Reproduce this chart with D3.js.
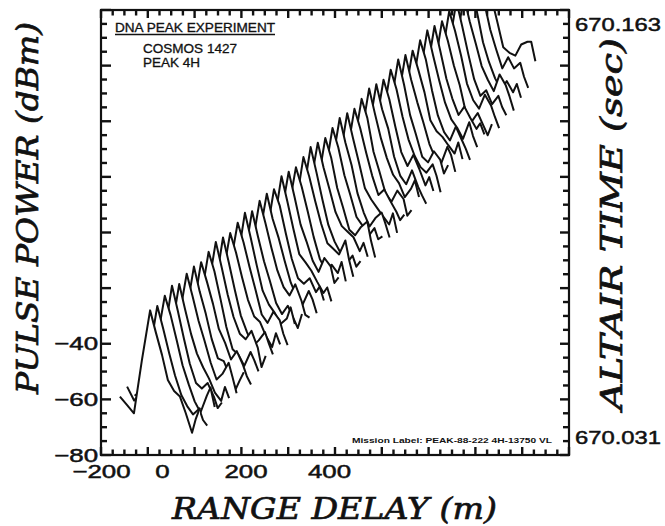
<!DOCTYPE html>
<html>
<head>
<meta charset="utf-8">
<script src="https://cdn.jsdelivr.net/npm/d3@7"></script>
<style>
  body { margin: 0; background: #fff; }
  svg { display: block; }
</style>
</head>
<body>
<svg id="chart"></svg>
<script>
// range delay (m) of the samples in every sweep
const rangeDelay = [-138, -115, -92, -66, -39, -20, 0, 14, 29, 43, 57, 72, 81, 91];

// ALTAIR time (sec) of each sweep, front (bottom) to back (top)
const sweepTimes = [
  670.0310, 670.0333, 670.0357, 670.0380, 670.0403, 670.0427, 670.0450, 670.0473,
  670.0497, 670.0520, 670.0543, 670.0566, 670.0590, 670.0613, 670.0636, 670.0660,
  670.0683, 670.0706, 670.0730, 670.0753, 670.0776, 670.0800, 670.0823, 670.0846,
  670.0870, 670.0893, 670.0916, 670.0940, 670.0963, 670.0986, 670.1010, 670.1033,
  670.1056, 670.1079, 670.1103, 670.1126, 670.1149, 670.1173, 670.1196, 670.1219,
  670.1243, 670.1266, 670.1289, 670.1313, 670.1336, 670.1359, 670.1382
];

// pulse power (dBm), one row per sweep, one value per rangeDelay sample
const pulsePower = [
  [-59, -62, -65, -46, -28, -36, -44, -53, -57, -59, -65, -72, -67, -63],
  [-58, -63, -60, -47, -29, -37, -46, -54, -61, -65, -68, -66, -70, -72],
  [-64, -62, -63, -45, -28, -35, -44, -53, -60, -66, -70, -64, -61, -68],
  [-60, -61, -64, -46, -27, -36, -46, -55, -62, -64, -62, -67, -71, -69],
  [-59, -63, -62, -47, -29, -38, -47, -54, -59, -63, -68, -71, -66, -70],
  [-61, -60, -64, -45, -28, -36, -45, -52, -60, -66, -64, -60, -65, -71],
  [-60, -62, -63, -46, -28, -37, -45, -54, -61, -62, -67, -72, -69, -66],
  [-59, -61, -64, -47, -29, -36, -44, -53, -58, -64, -61, -66, -70, -73],
  [-58, -62, -63, -46, -28, -35, -45, -55, -63, -65, -69, -64, -67, -71],
  [-60, -63, -62, -45, -27, -36, -46, -54, -60, -62, -59, -65, -72, -68],
  [-61, -61, -64, -47, -28, -37, -47, -56, -62, -67, -65, -62, -66, -70],
  [-59, -62, -63, -46, -29, -36, -45, -53, -59, -61, -66, -70, -65, -69],
  [-60, -60, -65, -45, -28, -35, -44, -52, -61, -64, -60, -63, -68, -72],
  [-58, -63, -62, -46, -27, -36, -46, -55, -60, -63, -67, -65, -61, -67],
  [-61, -62, -63, -47, -29, -38, -47, -54, -62, -66, -63, -68, -71, -66],
  [-59, -61, -64, -46, -28, -36, -45, -53, -59, -62, -58, -64, -69, -70],
  [-60, -62, -63, -45, -28, -37, -44, -52, -60, -65, -68, -63, -66, -71],
  [-58, -63, -62, -47, -29, -35, -45, -54, -61, -63, -61, -66, -64, -69],
  [-61, -60, -64, -46, -27, -36, -46, -55, -58, -61, -65, -69, -67, -72],
  [-59, -62, -63, -45, -28, -37, -47, -53, -60, -64, -59, -62, -68, -66],
  [-60, -61, -65, -46, -29, -36, -45, -54, -62, -66, -64, -67, -63, -70],
  [-58, -63, -62, -47, -28, -35, -44, -52, -59, -61, -63, -58, -65, -71],
  [-61, -62, -63, -46, -27, -36, -46, -55, -61, -65, -69, -66, -70, -68],
  [-59, -60, -64, -45, -28, -37, -45, -53, -58, -60, -62, -67, -64, -69],
  [-60, -62, -63, -47, -29, -36, -47, -54, -62, -64, -61, -59, -66, -72],
  [-58, -61, -62, -46, -28, -35, -45, -52, -60, -63, -67, -64, -68, -67],
  [-61, -63, -64, -45, -27, -36, -44, -54, -61, -66, -63, -61, -65, -70],
  [-59, -62, -63, -46, -28, -37, -46, -55, -59, -62, -65, -68, -64, -71],
  [-60, -60, -65, -47, -29, -36, -45, -53, -60, -58, -62, -66, -69, -67],
  [-58, -63, -62, -46, -28, -35, -47, -54, -62, -65, -61, -64, -70, -68],
  [-61, -62, -63, -45, -27, -36, -45, -52, -58, -61, -66, -63, -60, -66],
  [-59, -61, -64, -46, -28, -37, -44, -54, -61, -64, -59, -65, -68, -71],
  [-60, -62, -63, -47, -29, -36, -46, -55, -60, -56, -61, -67, -64, -69],
  [-58, -63, -62, -46, -28, -35, -45, -53, -59, -63, -65, -62, -66, -72],
  [-61, -60, -64, -45, -27, -36, -47, -54, -62, -64, -60, -63, -68, -65],
  [-59, -62, -63, -46, -28, -37, -45, -52, -60, -65, -67, -61, -64, -70],
  [-60, -61, -65, -47, -29, -36, -44, -54, -58, -60, -63, -66, -62, -68],
  [-58, -63, -62, -46, -28, -35, -46, -55, -61, -64, -59, -64, -67, -71],
  [-61, -62, -63, -45, -27, -36, -45, -53, -59, -62, -66, -60, -65, -69],
  [-59, -60, -64, -46, -28, -37, -47, -54, -60, -57, -61, -65, -63, -67],
  [-60, -62, -63, -47, -29, -36, -45, -52, -62, -65, -62, -67, -70, -66],
  [-58, -61, -62, -46, -28, -35, -44, -54, -60, -63, -58, -62, -66, -70],
  [-61, -63, -64, -45, -27, -36, -46, -55, -61, -59, -64, -61, -65, -68],
  [-59, -62, -63, -46, -28, -37, -45, -53, -58, -62, -56, -60, -64, -69],
  [-60, -60, -65, -47, -29, -36, -47, -54, -60, -64, -61, -65, -62, -67],
  [-58, -63, -62, -46, -28, -35, -45, -52, -59, -55, -59, -57, -62, -66],
  [-61, -62, -63, -45, -27, -36, -45, -54, -56, -57, -53, -52, -52, -59]
];

const powerTickLabels = [-40, -60, -80];
const rangeTickLabels = [-200, 0, 200, 400];
const timeTickLabels = [670.031, 670.163];

const W = 665, H = 526;
const plot = { left: 101, right: 569, top: 10, bottom: 455 };
const skew = 1; // sideways shift of a sweep per pixel of lift

const svg = d3.select("#chart").attr("width", W).attr("height", H);

const x = d3.scaleLinear().domain([-200, 0, 975]).range([plot.left, 162, plot.right]);
const y = d3.scaleLinear().domain([-80, 80]).range([plot.bottom, plot.top]);
const yTime = d3.scaleLinear().domain([670.031, 670.163]).range([437, 24]);
const frameX = d3.scaleLinear().domain([0, 40]).range([plot.left, plot.right]);

const sansFont = "'Liberation Sans', Arial, sans-serif";
const serifFont = "'DejaVu Serif', serif";
const ink = "#111";

// stretch text horizontally like the plotter lettering
function stretch(sel, factor) {
  sel.each(function () {
    const w = this.getComputedTextLength();
    d3.select(this).attr("textLength", w * factor).attr("lengthAdjust", "spacingAndGlyphs");
  });
}

svg.append("defs").append("clipPath").attr("id", "plotArea")
  .append("rect")
  .attr("x", plot.left).attr("y", plot.top)
  .attr("width", plot.right - plot.left).attr("height", plot.bottom - plot.top);

// waterfall: draw back sweeps first, each front sweep hides what lies under it
const traces = svg.append("g").attr("clip-path", "url(#plotArea)");
const base = yTime(sweepTimes[0]);
const area = d3.area().y0(plot.bottom);
const line = d3.line();
d3.range(sweepTimes.length - 1, -1, -1).forEach((i) => {
  const lift = base - yTime(sweepTimes[i]);
  const pts = rangeDelay.map((r, j) => [x(r) + skew * lift, y(pulsePower[i][j]) - lift]);
  traces.append("path").attr("d", area(pts)).attr("fill", "#fff");
  traces.append("path")
    .attr("d", line(pts))
    .attr("fill", "none")
    .attr("stroke", ink)
    .attr("stroke-width", 2)
    .attr("stroke-linejoin", "round");
});

// frame ticks, all pointing into the plot
const fives = d3.range(-80, 81, 5);
const divs = d3.range(0, 41);
const ticks = svg.append("g").attr("stroke", ink).attr("stroke-width", 2.4);

ticks.append("g").selectAll("line").data(fives).join("line")
  .attr("x1", plot.left).attr("x2", (d) => plot.left + (d % 20 === 0 ? 10 : 6))
  .attr("y1", (d) => y(d)).attr("y2", (d) => y(d));
ticks.append("g").selectAll("line").data(fives).join("line")
  .attr("x1", plot.right).attr("x2", (d) => plot.right - (d % 20 === 0 ? 9 : 6))
  .attr("y1", (d) => y(d)).attr("y2", (d) => y(d));
ticks.append("g").selectAll("line").data(divs).join("line")
  .attr("x1", (d) => frameX(d)).attr("x2", (d) => frameX(d))
  .attr("y1", plot.top).attr("y2", (d) => plot.top + (d % 4 === 0 ? 8 : 5.5));
ticks.append("g").selectAll("line").data(divs).join("line")
  .attr("x1", (d) => frameX(d)).attr("x2", (d) => frameX(d))
  .attr("y1", plot.bottom).attr("y2", (d) => plot.bottom - (d % 4 === 0 ? 8 : 5.5));

// frame
svg.append("rect")
  .attr("x", plot.left).attr("y", plot.top)
  .attr("width", plot.right - plot.left).attr("height", plot.bottom - plot.top)
  .attr("fill", "none").attr("stroke", ink).attr("stroke-width", 2.2);

// tick labels
function labelAxis(axis, transform, size, factor) {
  svg.append("g").attr("transform", transform).call(axis)
    .call((a) => a.select(".domain").remove())
    .call((a) => a.selectAll("line").remove())
    .call((a) => a.selectAll("text")
      .attr("font-family", sansFont).attr("font-size", size).attr("fill", ink)
      .attr("stroke", ink).attr("stroke-width", 0.5)
      .call(stretch, factor));
}
labelAxis(d3.axisLeft(y).tickValues(powerTickLabels).tickSize(0).tickPadding(3),
  `translate(${plot.left},0)`, 19, 1.36);
labelAxis(d3.axisBottom(x).tickValues(rangeTickLabels).tickSize(0).tickPadding(10),
  `translate(0,${plot.bottom})`, 19, 1.36);
labelAxis(d3.axisRight(yTime).tickValues(timeTickLabels).tickFormat(d3.format(".3f")).tickSize(0).tickPadding(6),
  `translate(${plot.right},0)`, 19, 1.25);

// axis titles
const titles = svg.append("g")
  .attr("font-family", serifFont).attr("font-style", "italic").attr("font-size", 30)
  .attr("fill", ink).attr("stroke", ink).attr("stroke-width", 0.7);
titles.append("text")
  .attr("transform", "translate(38,394) rotate(-90)")
  .attr("textLength", 372).attr("lengthAdjust", "spacingAndGlyphs")
  .text("PULSE POWER (dBm)");
titles.append("text")
  .attr("transform", "translate(622,410) rotate(-90)")
  .attr("textLength", 372).attr("lengthAdjust", "spacingAndGlyphs")
  .text("ALTAIR TIME (sec)");
titles.append("text")
  .attr("x", 172).attr("y", 519)
  .attr("textLength", 325).attr("lengthAdjust", "spacingAndGlyphs")
  .text("RANGE DELAY (m)");

// annotations
const note = svg.append("g").attr("font-family", sansFont).attr("fill", ink)
  .attr("stroke", ink).attr("stroke-width", 0.3);
note.append("text").attr("x", 115).attr("y", 32).attr("font-size", 12)
  .attr("textLength", 160).attr("lengthAdjust", "spacingAndGlyphs")
  .text("DNA PEAK EXPERIMENT");
note.append("line").attr("x1", 115).attr("x2", 275).attr("y1", 34.5).attr("y2", 34.5)
  .attr("stroke-width", 1.3);
note.append("text").attr("x", 143).attr("y", 53).attr("font-size", 12.5)
  .attr("textLength", 94).attr("lengthAdjust", "spacingAndGlyphs")
  .text("COSMOS 1427");
note.append("text").attr("x", 143).attr("y", 67).attr("font-size", 12.5)
  .attr("textLength", 57).attr("lengthAdjust", "spacingAndGlyphs")
  .text("PEAK 4H");
note.append("text").attr("x", 352).attr("y", 443).attr("font-size", 7.5).attr("font-weight", "bold")
  .attr("stroke-width", 0)
  .attr("textLength", 200).attr("lengthAdjust", "spacingAndGlyphs")
  .text("Mission Label: PEAK-88-222 4H-13750 VL");
</script>
</body>
</html>
